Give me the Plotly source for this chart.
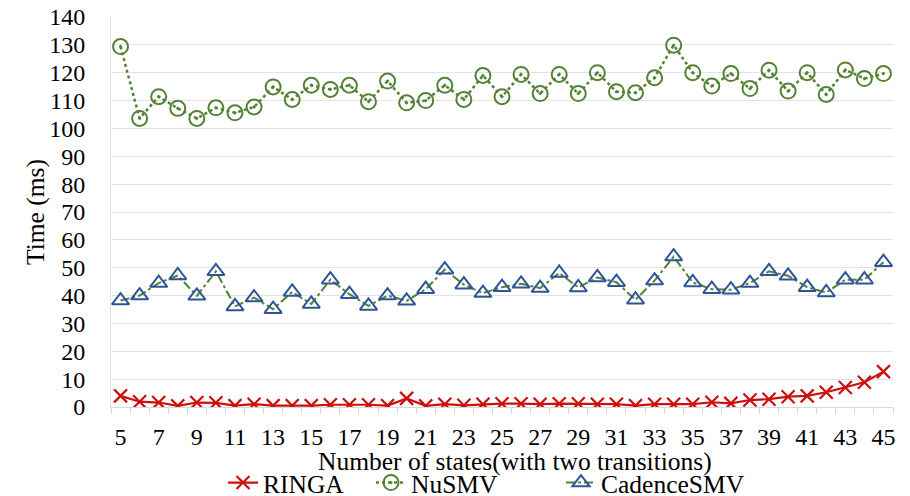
import plotly.graph_objects as go

states = list(range(5, 46))
ringa = [4.0, 1.9, 1.6, 0.4, 1.6, 1.5, 0.5, 1.0, 0.5, 0.5, 0.5, 0.8, 0.8, 0.8, 0.5, 3.1,
         0.4, 1.0, 0.6, 1.0, 1.2, 1.2, 1.0, 1.2, 1.2, 1.0, 1.0, 0.5, 1.0, 1.0, 1.0, 1.7,
         1.3, 2.5, 2.8, 3.7, 4.0, 5.3, 7.0, 8.9, 12.7]
nusmv = [129.4, 103.6, 111.4, 107.2, 103.6, 107.4, 105.6, 107.7, 114.9, 110.4, 115.5, 114.0,
         115.5, 109.6, 117.0, 109.2, 110.0, 115.5, 110.4, 119.0, 111.4, 119.4, 112.5, 119.4,
         112.5, 120.0, 113.2, 112.8, 118.2, 129.9, 120.0, 115.2, 119.7, 114.3, 120.9, 113.4,
         120.0, 112.2, 121.0, 117.9, 119.7]
cadence = [38.2, 40.0, 44.5, 47.2, 39.9, 48.7, 36.1, 39.3, 35.1, 41.3, 37.0, 45.7, 40.5,
           36.3, 40.0, 38.1, 42.3, 49.3, 43.9, 40.9, 43.0, 44.2, 42.7, 48.1, 42.9, 46.5,
           44.8, 38.5, 45.4, 54.0, 44.7, 42.3, 42.1, 44.5, 48.7, 47.1, 43.0, 41.1, 45.7,
           45.7, 52.0]
x_tick_labels = [str(s) for s in states[::2]]
y_ticks = list(range(0, 141, 10))

FONT = "Liberation Serif, Times New Roman, serif"
RED = "#CC1010"
GREEN = "#548235"
BLUE = "#2F5597"
GRID = "#E3E3E3"
TICK_SIZE = 24
TITLE_SIZE = 25.5

fig = go.Figure()
fig.add_trace(go.Scatter(
    x=states, y=ringa, name="RINGA", mode="lines+markers",
    line=dict(color=RED, width=2.2),
    marker=dict(symbol="x-thin", size=13, line=dict(color=RED, width=2.2)),
    legend="legend"))
fig.add_trace(go.Scatter(
    x=states, y=nusmv, name="NuSMV", mode="lines+markers",
    line=dict(color=GREEN, width=2.5, dash="dot"),
    marker=dict(symbol="circle-open-dot", size=15, color=GREEN, line=dict(color=GREEN, width=2)),
    legend="legend2"))
fig.add_trace(go.Scatter(
    x=states, y=cadence, name="CadenceSMV", mode="lines+markers",
    line=dict(color=GREEN, width=2, dash="dashdot"),
    marker=dict(symbol="triangle-up-open", size=15, color=BLUE, line=dict(color=BLUE, width=2)),
    legend="legend3"))

minor_vals = [s - 0.5 for s in states] + [states[-1] + 0.5]

L, R, T, B = 111, 17, 17, 89
W, H = 910, 496
pw = W - L - R
ph = H - T - B

def px_x(px):
    return (px - L) / pw

def px_y(py):
    return (H - B - py) / ph

leg_common = dict(orientation="h", yanchor="middle", xanchor="left",
                  font=dict(family=FONT, size=TITLE_SIZE, color="#000"),
                  bgcolor="rgba(0,0,0,0)", borderwidth=0)

fig.update_layout(
    width=W, height=H,
    margin=dict(l=L, r=R, t=T, b=B, autoexpand=False),
    paper_bgcolor="white", plot_bgcolor="white",
    font=dict(family=FONT, size=TICK_SIZE, color="#000"),
    showlegend=True,
    legend=dict(x=px_x(223), y=px_y(483), **leg_common),
    legend2=dict(x=px_x(371), y=px_y(483), **leg_common),
    legend3=dict(x=px_x(561), y=px_y(483), **leg_common),
    xaxis=dict(
        range=[states[0] - 0.5, states[-1] + 0.5],
        tickmode="array", tickvals=states[::2], ticktext=x_tick_labels,
        ticks="", showgrid=False, zeroline=False,
        showline=True, linecolor="#D9D9D9", linewidth=1,
        ticklabelstandoff=8,
        tickfont=dict(family=FONT, size=TICK_SIZE, color="#000"),
        minor=dict(tickmode="array", tickvals=minor_vals, ticks="outside",
                   ticklen=6, tickcolor="#D9D9D9", tickwidth=1, showgrid=False),
    ),
    yaxis=dict(
        range=[0, 140], tickmode="array", tickvals=y_ticks,
        showgrid=True, gridcolor=GRID, gridwidth=1, zeroline=False,
        showline=True, linecolor=GRID, linewidth=1, ticks="",
        ticklabelstandoff=20,
        tickfont=dict(family=FONT, size=TICK_SIZE, color="#000"),
    ),
    annotations=[
        dict(text="Time (ms)", xref="paper", yref="paper", x=px_x(35), y=0.5,
             textangle=-90, showarrow=False, xanchor="center", yanchor="middle",
             font=dict(family=FONT, size=TITLE_SIZE, color="#000")),
        dict(text="Number of states(with two transitions)", xref="paper", yref="paper",
             x=px_x(515), y=px_y(461), showarrow=False, xanchor="center", yanchor="middle",
             font=dict(family=FONT, size=TITLE_SIZE, color="#000")),
    ],
)

fig.write_html("out.html",
               config={"displayModeBar": False},
               post_script="document.body.style.margin='0px';document.body.style.overflow='hidden';")
